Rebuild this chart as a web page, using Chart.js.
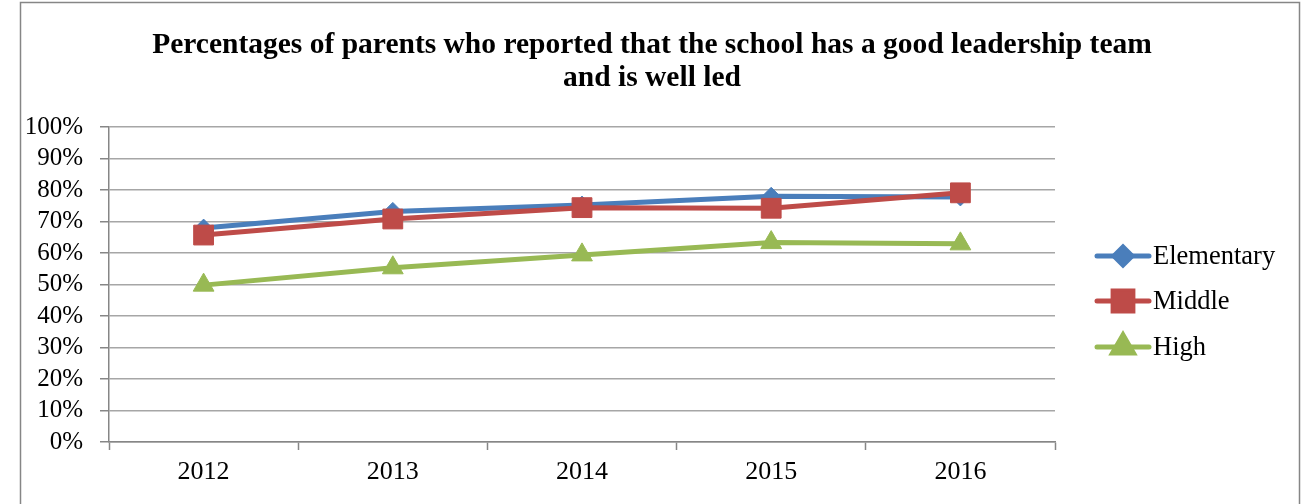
<!DOCTYPE html>
<html>
<head>
<meta charset="utf-8">
<script src="https://cdn.jsdelivr.net/npm/chart.js@4/dist/chart.umd.min.js"></script>
<style>
  html, body { margin: 0; padding: 0; background: #fff; }
  #wrap { position: relative; width: 1305px; height: 504px; }
</style>
</head>
<body>
<div id="wrap"><canvas id="myChart" width="1305" height="504"></canvas></div>
<script>
const years = ['2012', '2013', '2014', '2015', '2016'];
const elementary = [67.9, 73.2, 75.2, 78.0, 77.8];
const middle = [65.7, 70.8, 74.4, 74.2, 79.1];
const high = [49.8, 55.3, 59.4, 63.3, 62.9];
const seriesNames = ['Elementary', 'Middle', 'High'];
const seriesColors = ['#4a7ebb', '#be4b48', '#98b954'];
const seriesMarkers = ['rectRot', 'rect', 'triangle'];
const titleLines = ['Percentages of parents who reported that the school has a good leadership team', 'and is well led'];

const serif = "'Liberation Serif', 'Times New Roman', serif";

// frame, title and legend drawn by hand
const decor = {
  id: 'decor',
  beforeDraw(chart) {
    const c = chart.ctx;
    c.save();
    c.strokeStyle = '#868686';
    c.lineWidth = 1.5;
    c.strokeRect(20.5, 2.5, 1279, 600);
    c.restore();
  },
  afterDraw(chart) {
    const c = chart.ctx;
    c.save();
    c.fillStyle = '#000';
    c.textAlign = 'center';
    c.textBaseline = 'middle';
    c.font = 'bold 29.5px ' + serif;
    c.fillText(titleLines[0], 652, 45);
    c.fillText(titleLines[1], 652, 78);

    const rows = [256, 301, 347];
    chart.data.datasets.forEach((ds, i) => {
      const y = rows[i];
      c.strokeStyle = ds.borderColor;
      c.lineWidth = 5;
      c.lineCap = 'round';
      c.beginPath();
      c.moveTo(1097, y);
      c.lineTo(1149, y);
      c.stroke();
      Chart.helpers.drawPoint(c, {
        pointStyle: ds.pointStyle, radius: ds.pointRadius, rotation: 0, borderWidth: 1
      }, 1123, y);
      c.fillStyle = ds.borderColor;
      c.fill();
      c.fillStyle = '#000';
      c.textAlign = 'left';
      c.font = '26.5px ' + serif;
      c.fillText(ds.label, 1153, y + 1);
    });
    c.restore();
  }
};

function makeSet(i, values, radius) {
  return {
    label: seriesNames[i],
    data: values,
    borderColor: seriesColors[i],
    backgroundColor: seriesColors[i],
    borderWidth: 5,
    pointStyle: seriesMarkers[i],
    pointRadius: radius,
    pointBorderWidth: 1,
    pointHoverRadius: radius,
    tension: 0,
    order: 3 - i
  };
}

const ctx = document.getElementById('myChart').getContext('2d');
const myChart = new Chart(ctx, {
  type: 'line',
  data: {
    labels: years,
    datasets: [
      makeSet(0, elementary, 9),
      makeSet(1, middle, 14),
      makeSet(2, high, 12)
    ]
  },
  options: {
    responsive: false,
    animation: false,
    layout: { padding: { top: 127, right: 250, left: 0, bottom: 0 } },
    plugins: {
      legend: { display: false },
      title: { display: false },
      tooltip: { enabled: false }
    },
    scales: {
      x: {
        offset: true,
        grid: {
          offset: true,
          drawOnChartArea: false,
          drawTicks: true,
          tickLength: 8,
          tickColor: '#868686',
          tickWidth: 1.5
        },
        border: { color: '#868686', width: 1.5 },
        ticks: { color: '#000', font: { family: serif, size: 26 }, padding: 7 },
        afterFit(scale) { scale.height = 62; }
      },
      y: {
        min: 0,
        max: 1,
        grid: {
          color: '#a6a6a6',
          lineWidth: 1.5,
          tickLength: 9,
          tickColor: '#868686'
        },
        border: { color: '#868686', width: 1.5 },
        ticks: {
          stepSize: 0.1,
          autoSkip: false,
          color: '#000',
          padding: 17,
          font: { family: serif, size: 25 },
          callback: v => Math.round(v * 100) + '%'
        },
        afterFit(scale) { scale.width = 109; }
      }
    }
  },
  plugins: [decor]
});
// values are in percent, scale works in fractions
myChart.data.datasets.forEach(ds => { ds.data = ds.data.map(v => v / 100); });
myChart.update();
</script>
</body>
</html>
